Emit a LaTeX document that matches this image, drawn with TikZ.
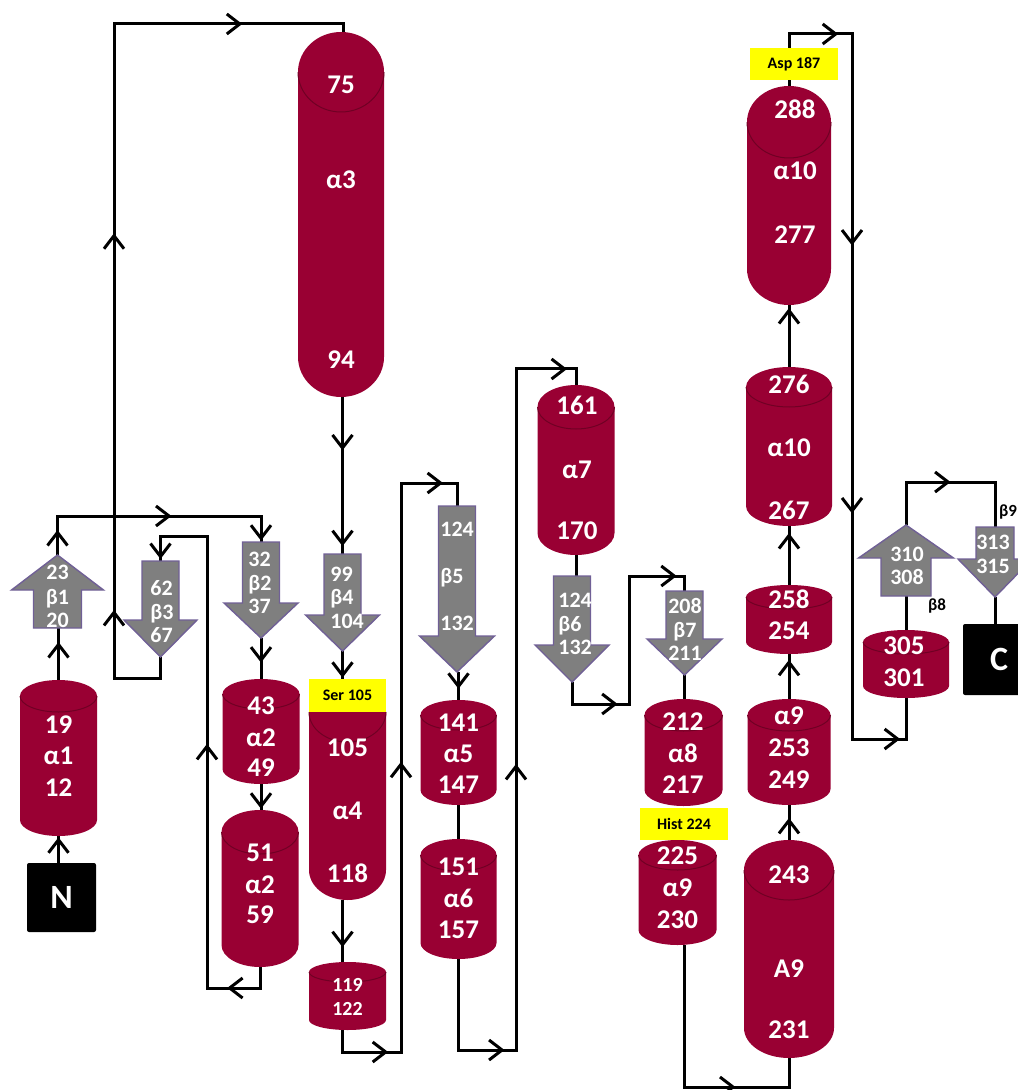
\documentclass[tikz,border=0pt]{standalone}
\usepackage{fontspec}
\setmainfont{Carlito}
\usetikzlibrary{arrows.meta,decorations.markings}
\definecolor{helixc}{RGB}{153,0,51}
\definecolor{helixr}{RGB}{112,0,36}
\definecolor{strandc}{RGB}{127,127,127}
\definecolor{strande}{RGB}{112,96,150}
\definecolor{labc}{RGB}{255,255,0}
\pgfdeclarelayer{bg}
\pgfsetlayers{bg,main}
\tikzset{
  ln/.style={line width=1.5pt,black,line join=miter},
  am/.style={postaction={decorate},decoration={markings,mark=at position #1 with {\arrow{Straight Barb[length=6.5pt,width=10pt]}}}},
  amtwo/.style 2 args={postaction={decorate},decoration={markings,mark=at position #1 with {\arrow{Straight Barb[length=6.5pt,width=10pt]}},mark=at position #2 with {\arrow{Straight Barb[length=6.5pt,width=10pt]}}}},
  helix/.style={fill=helixc},
  rim/.style={draw=helixr,line width=0.5pt},
  strand/.style={fill=strandc,draw=strande,line width=0.7pt,line join=miter},
  anch/.style={inner sep=0pt,outer sep=0pt},
  ht/.style={text=white,font=\fontsize{13.5}{15}\selectfont\bfseries,inner sep=0pt,text height=0.63em,text depth=0pt},
  st/.style={text=white,font=\fontsize{11}{13}\selectfont\bfseries,inner sep=0pt,text height=0.63em,text depth=0pt},
  stw/.style={st,anchor=west},
  sts/.style={text=white,font=\fontsize{10}{12}\selectfont\bfseries,inner sep=0pt,text height=0.63em,text depth=0pt},
  lab/.style={fill=labc,text=black,font=\fontsize{8}{10}\selectfont\bfseries,inner sep=0pt},
  bl/.style={text=black,font=\fontsize{8.5}{10}\selectfont\bfseries,inner sep=0pt},
  term/.style={fill=black,text=white,font=\fontsize{17}{19}\selectfont\bfseries,inner sep=0pt,rounded corners=1pt}
}
% cylinder: name, cx, top, bottom, half width, end radius (pixel units)
\newcommand\cyl[6]{%
  \pgfmathsetmacro\qL{#2-#5}\pgfmathsetmacro\qR{#2+#5}%
  \pgfmathsetmacro\qT{#3+#6}\pgfmathsetmacro\qB{#4-#6}%
  \pgfmathsetmacro\qC{(#3+#4)/2}\pgfmathsetmacro\qH{(#4-#3)/2}%
  \pgfmathsetmacro\qX{#5/2}\pgfmathsetmacro\qY{#6/2}%
  \fill[helix] (\qL,\qT) -- (\qL,\qB) arc[start angle=180,end angle=360,x radius=\qX pt,y radius=\qY pt] -- (\qR,\qT) arc[start angle=0,end angle=180,x radius=\qX pt,y radius=\qY pt] -- cycle;
  \draw[rim] (\qL,\qT) arc[start angle=180,end angle=360,x radius=\qX pt,y radius=\qY pt];
  \node[anch,minimum width=#5 pt,minimum height=\qH pt] (#1) at (#2,\qC) {};
}
% down strand: name, cx, top, head base, tip, shaft half width, head half width
\newcommand\bdown[7]{%
  \filldraw[strand] (#2-#6,#3) -- (#2+#6,#3) -- (#2+#6,#4) -- (#2+#7,#4) -- (#2,#5) -- (#2-#7,#4) -- (#2-#6,#4) -- cycle;
  \pgfmathsetmacro\qC{(#3+#5)/2}\pgfmathsetmacro\qH{(#5-#3)/2}%
  \node[anch,minimum width=#7 pt,minimum height=\qH pt] (#1) at (#2,\qC) {};
}
% up strand: name, cx, tip, head base, bottom, shaft half width, head half width
\newcommand\bup[7]{%
  \filldraw[strand] (#2,#3) -- (#2+#7,#4) -- (#2+#6,#4) -- (#2+#6,#5) -- (#2-#6,#5) -- (#2-#6,#4) -- (#2-#7,#4) -- cycle;
  \pgfmathsetmacro\qC{(#3+#5)/2}\pgfmathsetmacro\qH{(#5-#3)/2}%
  \node[anch,minimum width=#7 pt,minimum height=\qH pt] (#1) at (#2,\qC) {};
}
\newcommand\txt[4]{\foreach \yy/\tx [count=\ii] in {#4} {\node[#2] (#1-\ii) at (#3,\yy) {\tx};}}

\begin{document}
\begin{tikzpicture}[x=0.5pt,y=-0.5pt]
\useasboundingbox (0,0) rectangle (1017,1090);

% ---------- helices ----------
\cyl{a1}{58.5}{680}{836}{38.5}{16}
\cyl{a3}{341}{32}{397}{43}{40}
\cyl{a2a}{261}{679}{784}{38.5}{15}
\cyl{a2b}{260}{810}{967}{38.5}{22}
\cyl{a4}{347.5}{682}{900}{38.5}{30}
\cyl{c119}{347.5}{962}{1030}{38.5}{10}
\cyl{a5}{458.5}{700}{805}{38}{15}
\cyl{a6}{458.5}{839}{959}{38}{16}
\cyl{a7}{576}{385}{555}{38.5}{22}
\cyl{a8}{683.5}{699}{806}{39}{16}
\cyl{a9a}{677.5}{840}{945}{39}{15}
\cyl{A9}{789}{840}{1058}{45}{30}
\cyl{a9c}{789}{699}{805}{41.5}{16}
\cyl{c258}{789}{585}{654}{43}{12}
\cyl{a10a}{789}{367}{526}{43}{20}
\cyl{a10b}{789}{86}{305}{42}{36}
\cyl{c305}{906}{630}{698}{43}{12}

% ---------- strands ----------
\bup{b1}{57.5}{555}{590}{628}{24}{46}
\bdown{b3}{160.5}{561}{620}{657}{18.5}{36.5}
\bdown{b2}{261}{542}{603}{638}{18.5}{37}
\bdown{b4}{342.5}{554}{615}{651}{18.5}{37}
\bdown{b5}{457}{506}{636}{672}{18.5}{37.5}
\bdown{b6}{572}{576}{645}{682}{18.5}{37}
\bdown{b7}{684.5}{591}{639}{675}{18.5}{37.5}
\bup{b8}{906}{525}{558}{596}{25}{47.5}
\bdown{b9}{995}{527}{559}{597}{19}{37}

% ---------- termini and site labels ----------
\node[term,minimum width=34.5pt,minimum height=34.5pt] (N) at (61.5,897.5) {N};
\node[term,minimum width=36pt,minimum height=35.5pt] (C) at (999,659.5) {C};
\node[lab,minimum width=38.5pt,minimum height=16.5pt] (ser) at (347.5,695.5) {Ser 105};
\node[lab,minimum width=44pt,minimum height=16pt] (hist) at (684,823.5) {Hist 224};
\node[lab,minimum width=44pt,minimum height=16pt] (asp) at (794,64) {Asp 187};
\node[bl] (lb8) at (937,606) {β8};
\node[bl] (lb9) at (1008,512) {β9};

% ---------- texts ----------
\txt{a1t}{ht}{58.5}{727/19,758/α1,790/12}
\txt{a3t}{ht}{341}{87/75,182/α3,362/94}
\txt{a2at}{ht}{261}{708/43,740/α2,770/49}
\txt{a2bt}{ht}{260}{855/51,887/α2,917/59}
\txt{a4t}{ht}{347.5}{750/105,813/α4,876/118}
\txt{c119t}{sts}{347.5}{985/119,1009/122}
\txt{a5t}{ht}{458.5}{725/141,756/α5,787/147}
\txt{a6t}{ht}{458.5}{869/151,901/α6,932/157}
\txt{a7t}{ht}{577}{408/161,472/α7,533/170}
\txt{a8t}{ht}{683}{724/212,756/α8,787/217}
\txt{a9at}{ht}{677.5}{858/225,890/α9,922/230}
\txt{A9t}{ht}{789}{877/243,971/A9,1032/231}
\txt{a9ct}{ht}{789}{718/α9,750/253,782/249}
\txt{c258t}{ht}{789}{602/258,633/254}
\txt{a10at}{ht}{789}{387/276,450/α10,513/267}
\txt{a10bt}{ht}{795}{112/288,173/α10,237/277}
\txt{c305t}{ht}{904}{648/305,680/301}
\txt{b1t}{st}{57.5}{573/23,598/β1,621/20}
\txt{b3t}{stw}{150}{589/62,613/β3,636/67}
\txt{b2t}{stw}{248}{560/32,584/β2,607/37}
\txt{b4t}{stw}{330}{575/99,598/β4,622/104}
\txt{b5t}{stw}{440}{530/124,577/β5,624/132}
\txt{b6t}{stw}{558}{601/124,625/β6,648/132}
\txt{b7t}{st}{685}{607/208,631/β7,654/211}
\txt{b8t}{st}{907}{555/310,578/308}
\txt{b9t}{st}{993}{543/313,567/315}

% ---------- connectors ----------
\begin{pgfonlayer}{bg}
\coordinate (L516) at (0,516);
\coordinate (L988) at (0,988);
\coordinate (k1) at (207,988);
\coordinate (k2) at (207,536);
\coordinate (L678) at (0,678);
\coordinate (k3) at (114,678);
\coordinate (k4) at (114,24);
\coordinate (k4b) at (343,24);
\coordinate (L1052) at (0,1052);
\coordinate (k5) at (401,1052);
\coordinate (k6) at (401,483);
\coordinate (L1050) at (0,1050);
\coordinate (k7) at (516,1050);
\coordinate (k8) at (516,369);
\coordinate (L704) at (0,704);
\coordinate (k9) at (629,704);
\coordinate (k10) at (629,576);
\coordinate (k11) at (684,1087);
\coordinate (L34) at (0,34);
\coordinate (k12) at (852,34);
\coordinate (k13) at (852,739);
\coordinate (L482) at (0,482);

\draw[ln,am=0.95] (a1.south |- N.north) -- (a1.south);
\draw[ln,am=0.73] (a1.north) -- (a1.north |- b1.south);
% b1 -> b2
\draw[ln] (b1.north) -- (b1.north |- L516) -- (b2.north |- L516) -- (b2.north);
\draw[ln,am=0.64] (b1.north) -- (b1.north |- L516);
\draw[ln,am=0.56] (b1.north |- L516) -- (b2.north |- L516);
\draw[ln,am=0.95] (b2.north |- L516) -- (b2.north);
\draw[ln,am=0.6] (b2.south) -- (b2.south |- a2a.north);
\draw[ln,am=0.95] (a2a.south) -- (a2a.south |- a2b.north);
% a2b -> b3
\draw[ln] (a2b.south) -- (a2b.south |- L988) -- (k1) -- (k2) -- (b3.north |- k2) -- (b3.north);
\draw[ln,am=0.62] (a2b.south |- L988) -- (k1);
\draw[ln,am=0.54] (k1) -- (k2);
\draw[ln,am=0.92] (b3.north |- k2) -- (b3.north);
% b3 -> a3
\draw[ln] (b3.south) -- (b3.south |- L678) -- (k3) -- (k4) -- (k4b) -- (k4b |- a3.north);
\draw[ln,amtwo={0.104}{0.68}] (k3) -- (k4);
\draw[ln,am=0.56] (k4) -- (k4b);
% a3 -> b4
\draw[ln,amtwo={0.34}{0.95}] (b4.north |- a3.south) -- (b4.north);
\draw[ln,am=0.97] (b4.south) -- (b4.south |- ser.north);
\draw[ln,am=0.76] (b4.south |- a4.south) -- (b4.south |- c119.north);
% c119 -> b5
\draw[ln] (b4.south |- c119.south) -- (b4.south |- L1052) -- (k5) -- (k6) -- (b5.north |- k6) -- (b5.north);
\draw[ln,am=0.78] (b4.south |- L1052) -- (k5);
\draw[ln,am=0.51] (k5) -- (k6);
\draw[ln,am=0.75] (k6) -- (b5.north |- k6);
\draw[ln,am=0.6] (a5.north |- b5.south) -- (a5.north);
\draw[ln] (a5.south) -- (a6.north);
% a6 -> a7
\draw[ln] (a6.south) -- (a6.south |- L1050) -- (k7) -- (k8) -- (a7.north |- k8) -- (a7.north);
\draw[ln,am=0.8] (a6.south |- L1050) -- (k7);
\draw[ln,am=0.42] (k7) -- (k8);
\draw[ln,am=0.85] (k8) -- (a7.north |- k8);
\draw[ln] (a7.south) -- (a7.south |- b6.north);
% b6 -> b7
\draw[ln] (b6.south) -- (b6.south |- L704) -- (k9) -- (k10) -- (b7.north |- k10) -- (b7.north);
\draw[ln,am=0.8] (b6.south |- L704) -- (k9);
\draw[ln,am=0.86] (k10) -- (b7.north |- k10);
\draw[ln] (b7.south) -- (b7.south |- a8.north);
% a9a -> A9
\draw[ln] (k11 |- a9a.south) -- (k11) -- (A9.south |- k11) -- (A9.south);
\draw[ln,am=0.49] (k11) -- (A9.south |- k11);
\draw[ln,am=0.63] (A9.north) -- (a9c.south);
\draw[ln,am=0.87] (a9c.north) -- (c258.south);
\draw[ln,am=0.88] (c258.north) -- (a10a.south);
\draw[ln,am=0.95] (a10a.north) -- (a10b.south);
% a10b -> c305
\draw[ln] (a10b.north) -- (a10b.north |- L34) -- (k12) -- (k13) -- (c305.south |- k13) -- (c305.south);
\draw[ln,am=0.78] (a10b.north |- L34) -- (k12);
\draw[ln,amtwo={0.30}{0.68}] (k12) -- (k13);
\draw[ln,am=0.89] (k13) -- (c305.south |- k13);
\draw[ln] (c305.north) -- (c305.north |- b8.south);
% b8 -> b9
\draw[ln] (b8.north) -- (b8.north |- L482) -- (b9.north |- L482) -- (b9.north);
\draw[ln,am=0.5] (b8.north |- L482) -- (b9.north |- L482);
\draw[ln] (b9.south) -- (b9.south |- C.north);
\end{pgfonlayer}
\end{tikzpicture}
\end{document}
